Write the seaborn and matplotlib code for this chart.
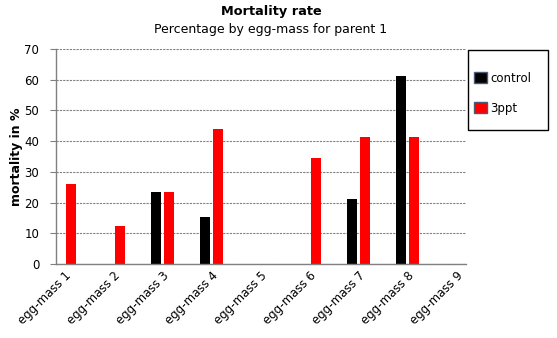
import numpy as np
import pandas as pd
import matplotlib
matplotlib.use("Agg")
import matplotlib.pyplot as plt
import seaborn as sns
from matplotlib.patches import Patch, Rectangle

categories = ["egg-mass 1", "egg-mass 2", "egg-mass 3", "egg-mass 4", "egg-mass 5",
              "egg-mass 6", "egg-mass 7", "egg-mass 8", "egg-mass 9"]
control = [0, 0, 23.5, 15.3, 0, 0, 21.2, 61.3, 0]
ppt3 = [26.1, 12.4, 23.5, 44.0, 0, 34.6, 41.4, 41.4, 0]
series = ["control", "3ppt"]
colors = ["#000000", "#ff0000"]
yticks = [0, 10, 20, 30, 40, 50, 60, 70]

df = pd.DataFrame({
    "cat": categories * 2,
    "val": control + ppt3,
    "series": [series[0]] * len(categories) + [series[1]] * len(categories),
})

sns.set_style("white")
plt.rcParams["font.family"] = ["DejaVu Sans"]
plt.rcParams["text.color"] = "black"
plt.rcParams["xtick.color"] = "black"
plt.rcParams["ytick.color"] = "black"
plt.rcParams["axes.labelcolor"] = "black"

fig = plt.figure(figsize=(5.57, 3.38), dpi=100)
ax = fig.add_axes([56 / 557, 1 - 264 / 338, (466 - 56) / 557, (264 - 49) / 338])

sns.barplot(data=df, x="cat", y="val", hue="series", order=categories,
            hue_order=series, palette=colors, width=0.53, gap=0.3,
            dodge=True, ax=ax, legend=False, saturation=1, linewidth=0)

ax.set_xlim(-0.173, 8.194)
ax.set_ylim(0, 70)
ax.set_yticks(yticks)
ax.set_yticklabels([str(v) for v in yticks], fontsize=8.5)
ax.yaxis.grid(True, linestyle=(0, (2, 1)), color="#808080", linewidth=0.8)
ax.set_axisbelow(True)
ax.tick_params(axis="y", which="both", left=True, length=4, width=0.8,
               color="#808080", pad=8, labelcolor="black")
ax.tick_params(axis="x", length=0, pad=4, labelcolor="black")
ax.set_xticks(range(len(categories)))
ax.set_xticklabels(categories, rotation=45, ha="right", rotation_mode="anchor",
                   fontsize=8.5)
for s in ["top", "right"]:
    ax.spines[s].set_visible(False)
for s in ["left", "bottom"]:
    ax.spines[s].set_color("#808080")
    ax.spines[s].set_linewidth(1)
ax.set_xlabel("")
ax.set_ylabel("mortality in %", fontsize=9, fontweight="bold", color="black",
              va="center")
ax.yaxis.set_label_coords((17 - 56) / 410, 0.5)

fig.text(271 / 557, 1 - 12 / 338, "Mortality rate", ha="center", va="center",
         fontsize=9.3, fontweight="bold", color="black")
fig.text(271 / 557, 1 - 29 / 338, "Percentage by egg-mass for parent 1",
         ha="center", va="center", fontsize=9, color="black")

# legend box
fig.patches.append(Rectangle((468 / 557, 1 - 130 / 338), 80 / 557, 80 / 338,
                             transform=fig.transFigure, facecolor="white",
                             edgecolor="black", linewidth=1, zorder=1))
handles = [Patch(facecolor=c, edgecolor="#4a5a78", linewidth=1) for c in colors]
leg = fig.legend(handles, series, loc="upper left",
                 bbox_to_anchor=(474 / 557, 1 - 71.5 / 338), frameon=False,
                 fontsize=8.5, handlelength=1.1, handleheight=1.1,
                 handletextpad=0.3, labelspacing=1.45, borderpad=0,
                 borderaxespad=0)
leg.set_zorder(5)

fig.savefig("out.png", dpi=100, facecolor="white")
